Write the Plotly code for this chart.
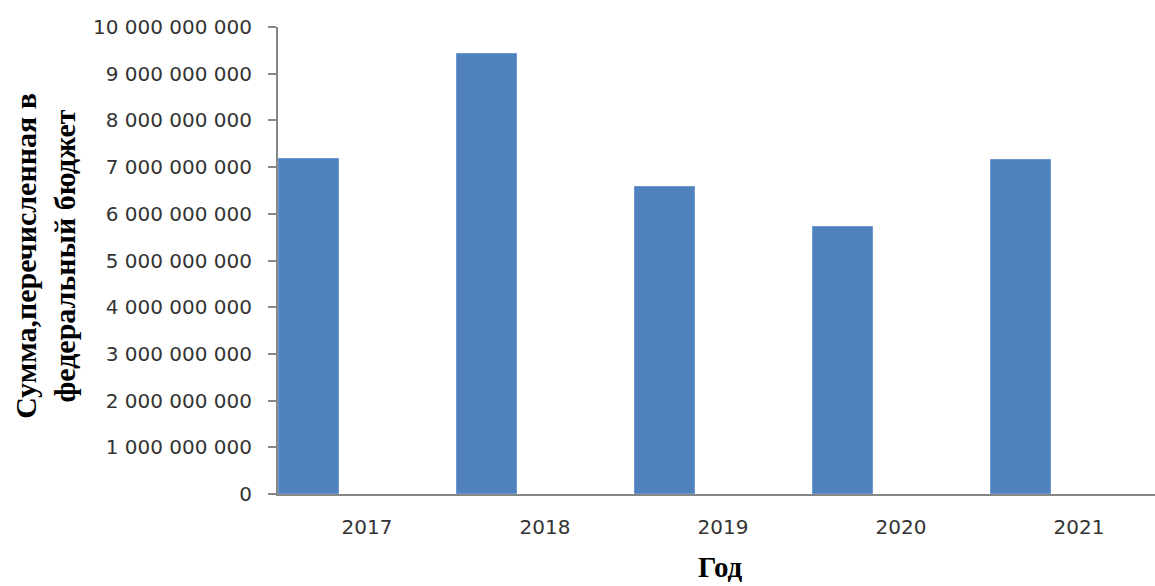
import plotly.graph_objects as go

# Суммы, перечисленные в федеральный бюджет по годам
years = ["2017", "2018", "2019", "2020", "2021"]
amounts = [7.17e9, 9.42e9, 6.57e9, 5.71e9, 7.15e9]
y_ticks = [i * 1e9 for i in range(11)]

positions = list(range(len(years)))

fig = go.Figure()
fig.add_trace(go.Bar(
    x=positions,
    y=amounts,
    offset=-0.494,
    width=0.337,
    marker=dict(color="#4F81BD", line=dict(color="#6A98CF", width=1)),
    showlegend=False,
))

axis_color = "#868686"
tick_font = dict(family="DejaVu Sans", size=20, color="#333333")
title_font = dict(family="Liberation Serif", size=30, color="#000000")

fig.update_layout(
    width=1155,
    height=586,
    margin=dict(l=278, r=0, t=27, b=92),
    paper_bgcolor="white",
    plot_bgcolor="white",
    separators=", ",
    bargap=0,
    xaxis=dict(
        range=[-0.5, 4.427],
        tickmode="array",
        tickvals=positions,
        ticktext=years,
        showline=True,
        linecolor=axis_color,
        linewidth=2,
        showgrid=False,
        zeroline=False,
        ticks="",
        ticklabelstandoff=14,
        tickfont=tick_font,
    ),
    yaxis=dict(
        range=[0, 1e10],
        tickmode="array",
        tickvals=y_ticks,
        tickformat=",d",
        showline=True,
        linecolor=axis_color,
        linewidth=2,
        showgrid=False,
        zeroline=False,
        ticks="outside",
        ticklen=8,
        tickwidth=2,
        tickcolor=axis_color,
        ticklabelstandoff=12,
        tickfont=tick_font,
    ),
    annotations=[
        dict(
            text="<b>Сумма,перечисленная в<br>федеральный бюджет</b>",
            xref="paper", yref="paper",
            x=-0.2657, y=0.51,
            xanchor="center", yanchor="middle",
            textangle=-90,
            showarrow=False,
            font=title_font,
        ),
        dict(
            text="<b>Год</b>",
            xref="paper", yref="paper",
            x=0.505, y=-0.156,
            xanchor="center", yanchor="middle",
            showarrow=False,
            font=dict(family="Liberation Serif", size=29, color="#000000"),
        ),
    ],
)

fig.write_html("out.html")
